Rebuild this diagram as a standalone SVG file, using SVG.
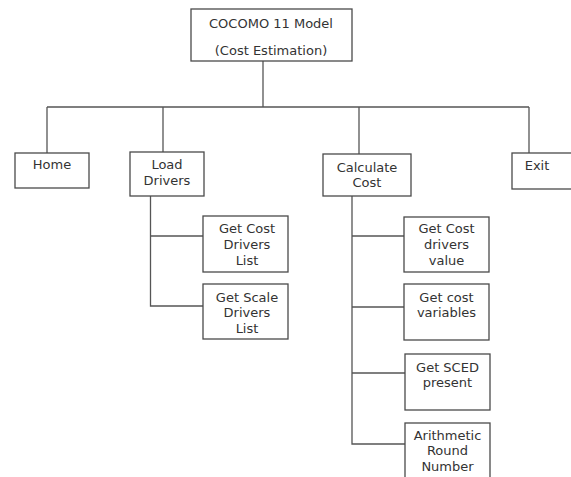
<svg xmlns="http://www.w3.org/2000/svg" width="571" height="477" viewBox="0 0 571 477">
  <style>
    .box { fill: #ffffff; stroke: #4a4a4a; stroke-width: 1.3; }
    .wire { fill: none; stroke: #555555; stroke-width: 1.3; }
    .label { font-family: "DejaVu Sans", Verdana, sans-serif; font-size: 13px; fill: #333333; text-anchor: middle; }
  </style>
  <rect width="571" height="477" fill="#ffffff"/>

  <!-- connectors -->
  <g id="connectors">
    <path class="wire" d="M263 61 V107"/>
    <path class="wire" d="M47 107 H529"/>
    <path class="wire" d="M47 107 V153"/>
    <path class="wire" d="M163 107 V152"/>
    <path class="wire" d="M359 107 V154"/>
    <path class="wire" d="M529 107 V153"/>
    <!-- Load Drivers sub-tree -->
    <path class="wire" d="M150.5 196 V306 H203"/>
    <path class="wire" d="M150.5 236 H203"/>
    <!-- Calculate Cost sub-tree -->
    <path class="wire" d="M352 196 V444 H405"/>
    <path class="wire" d="M352 236 H404"/>
    <path class="wire" d="M352 307 H404"/>
    <path class="wire" d="M352 373 H405"/>
  </g>

  <g id="root">
    <rect class="box" x="191" y="9" width="161" height="52"/>
    <text class="label" x="271" y="28">COCOMO 11 Model</text>
    <text class="label" x="271" y="55">(Cost Estimation)</text>
  </g>

  <g id="home">
    <rect class="box" x="15" y="153" width="74" height="35"/>
    <text class="label" x="52" y="169">Home</text>
  </g>

  <g id="load-drivers">
    <rect class="box" x="130" y="152" width="74" height="44"/>
    <text class="label" x="167" y="169">Load</text>
    <text class="label" x="167" y="185">Drivers</text>
  </g>

  <g id="calculate-cost">
    <rect class="box" x="323" y="154" width="88" height="42"/>
    <text class="label" x="367" y="171.5">Calculate</text>
    <text class="label" x="367" y="187">Cost</text>
  </g>

  <g id="exit">
    <rect class="box" x="512" y="153" width="66" height="36"/>
    <text class="label" x="537" y="170">Exit</text>
  </g>

  <g id="get-cost-drivers-list">
    <rect class="box" x="203" y="216" width="85" height="56"/>
    <text class="label" x="247" y="233">Get Cost</text>
    <text class="label" x="247" y="249">Drivers</text>
    <text class="label" x="247" y="265">List</text>
  </g>

  <g id="get-scale-drivers-list">
    <rect class="box" x="203" y="284" width="85" height="55"/>
    <text class="label" x="247" y="301.5">Get Scale</text>
    <text class="label" x="247" y="317">Drivers</text>
    <text class="label" x="247" y="332.5">List</text>
  </g>

  <g id="get-cost-drivers-value">
    <rect class="box" x="404" y="217" width="85" height="55"/>
    <text class="label" x="446.5" y="233">Get Cost</text>
    <text class="label" x="446.5" y="249">drivers</text>
    <text class="label" x="446.5" y="265">value</text>
  </g>

  <g id="get-cost-variables">
    <rect class="box" x="404" y="284" width="85" height="56"/>
    <text class="label" x="446.5" y="301.5">Get cost</text>
    <text class="label" x="446.5" y="317">variables</text>
  </g>

  <g id="get-sced-present">
    <rect class="box" x="405" y="354" width="85" height="56"/>
    <text class="label" x="447.5" y="371.5">Get SCED</text>
    <text class="label" x="447.5" y="387">present</text>
  </g>

  <g id="arithmetic-round-number">
    <rect class="box" x="405" y="423" width="85" height="58"/>
    <text class="label" x="447.5" y="439.5">Arithmetic</text>
    <text class="label" x="447.5" y="455">Round</text>
    <text class="label" x="447.5" y="470.5">Number</text>
  </g>
</svg>
